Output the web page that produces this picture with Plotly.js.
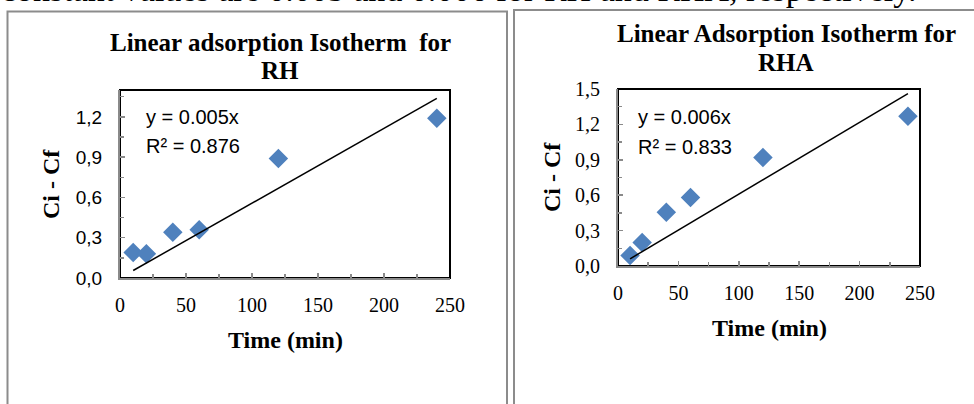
<!DOCTYPE html>
<html>
<head>
<meta charset="utf-8">
<script src="https://cdn.plot.ly/plotly-3.0.1.min.js"></script>
<style>html,body{margin:0;padding:0;background:#fff;} #chart{width:974px;height:404px;}</style>
</head>
<body>
<div id="chart"></div>
<script>
// ---- data ----
const timeMin = [10, 20, 40, 60, 120, 240];
const rhValues = [0.19, 0.18, 0.34, 0.36, 0.89, 1.19];
const rhaValues = [0.09, 0.20, 0.455, 0.58, 0.92, 1.27];
const rhEquation = ["y = 0.005x", "R\u00b2 = 0.876"];
const rhaEquation = ["y = 0.006x", "R\u00b2 = 0.833"];
const titles = [["Linear adsorption Isotherm  for", "RH"], ["Linear Adsorption Isotherm for", "RHA"]];
const xTitle = "Time (min)";
const yTitle = "Ci - Cf";
const topText = "constant values are 0.005 and 0.006 for RH and RHA, respectively.";

// least squares linear trendline through the origin (as Excel)
function slopeThroughOrigin(xs, ys) {
  let sxy = 0, sxx = 0;
  xs.forEach((x, i) => { sxy += x * ys[i]; sxx += x * x; });
  return sxy / sxx;
}
const xEnds = [Math.min(...timeMin), Math.max(...timeMin)];
const kRH = slopeThroughOrigin(timeMin, rhValues);
const kRHA = slopeThroughOrigin(timeMin, rhaValues);

const W = 974, H = 404;
const px = x => x / W;
const py = y => 1 - y / H;

const serif = "Liberation Serif, Times New Roman, serif";
const sans = "Liberation Sans, Arial, sans-serif";
const blue = "#4F81BD";
const axisGray = "#8a8a8a";

const marker = {symbol: "diamond", size: 15, color: blue, line: {width: 0}};

const traces = [
  {x: timeMin, y: rhValues, type: "scatter", mode: "markers", marker: marker, xaxis: "x", yaxis: "y", cliponaxis: false},
  {x: xEnds, y: xEnds.map(v => v * kRH), type: "scatter", mode: "lines", line: {color: "#000", width: 1.5}, xaxis: "x", yaxis: "y"},
  {x: timeMin, y: rhaValues, type: "scatter", mode: "markers", marker: marker, xaxis: "x2", yaxis: "y2", cliponaxis: false},
  {x: xEnds, y: xEnds.map(v => v * kRHA), type: "scatter", mode: "lines", line: {color: "#000", width: 1.5}, xaxis: "x2", yaxis: "y2"}
];

function xAxis(domain, anchor) {
  return {
    domain: domain, anchor: anchor, range: [0, 250], dtick: 50, tick0: 0,
    showgrid: false, zeroline: false, showline: true, linecolor: axisGray, linewidth: 2,
    ticks: "inside", ticklen: 5, tickcolor: axisGray, tickwidth: 1.5,
    minor: {ticks: "inside", dtick: 25, ticklen: 4, tickcolor: axisGray, tickwidth: 1.5},
    tickfont: {family: serif, size: 20, color: "#000"}, ticklabelstandoff: 8,
    fixedrange: true
  };
}
function yAxis(domain, anchor, maxv, font) {
  return {
    domain: domain, anchor: anchor, range: [0, maxv], dtick: 0.3, tick0: 0,
    tickformat: ".1f",
    showgrid: false, zeroline: false, showline: true, linecolor: axisGray, linewidth: 2,
    ticks: "inside", ticklen: 5, tickcolor: axisGray, tickwidth: 1.5,
    minor: {ticks: "inside", dtick: 0.15, ticklen: 4, tickcolor: axisGray, tickwidth: 1.5},
    tickfont: font, ticklabelstandoff: 12,
    fixedrange: true
  };
}

const shapes = [
  // plot-area frames
  {type: "rect", xref: "paper", yref: "paper", x0: px(120), x1: px(450), y0: py(278), y1: py(90), line: {color: "#000", width: 2}, layer: "below"},
  {type: "rect", xref: "paper", yref: "paper", x0: px(618), x1: px(920), y0: py(266), y1: py(89), line: {color: "#000", width: 2}, layer: "below"},
  // outer panel borders
  {type: "path", xref: "paper", yref: "paper", path: `M ${px(7.5)} ${py(410)} L ${px(7.5)} ${py(11.5)} L ${px(507)} ${py(11.5)} L ${px(507)} ${py(410)}`, line: {color: "#8c8c8c", width: 2}},
  {type: "path", xref: "paper", yref: "paper", path: `M ${px(514)} ${py(410)} L ${px(514)} ${py(10)} L ${px(980)} ${py(10)}`, line: {color: "#8c8c8c", width: 2}}
];

const titleFont = {family: serif, size: 25, color: "#000", weight: "bold"};
const axisTitleFont = {family: serif, size: 24, color: "#000", weight: "bold"};
const eqFont = {family: sans, size: 20, color: "#000"};

const annotations = [
  {text: topText, xref: "paper", yref: "paper", x: px(-1), y: py(10), xanchor: "left", yanchor: "bottom", showarrow: false, font: {family: serif, size: 34, color: "#000"}},
  // titles
  {text: "<b>" + titles[0][0] + "</b>", xref: "paper", yref: "paper", x: px(280), y: py(43), xanchor: "center", yanchor: "middle", showarrow: false, font: titleFont},
  {text: "<b>" + titles[0][1] + "</b>", xref: "paper", yref: "paper", x: px(280), y: py(71), xanchor: "center", yanchor: "middle", showarrow: false, font: titleFont},
  {text: "<b>" + titles[1][0] + "</b>", xref: "paper", yref: "paper", x: px(786), y: py(34), xanchor: "center", yanchor: "middle", showarrow: false, font: titleFont},
  {text: "<b>" + titles[1][1] + "</b>", xref: "paper", yref: "paper", x: px(786), y: py(62), xanchor: "center", yanchor: "middle", showarrow: false, font: titleFont},
  // axis titles
  {text: "<b>" + xTitle + "</b>", xref: "paper", yref: "paper", x: px(285), y: py(340), xanchor: "center", yanchor: "middle", showarrow: false, font: axisTitleFont},
  {text: "<b>" + xTitle + "</b>", xref: "paper", yref: "paper", x: px(769), y: py(328), xanchor: "center", yanchor: "middle", showarrow: false, font: axisTitleFont},
  {text: "<b>" + yTitle + "</b>", xref: "paper", yref: "paper", x: px(51), y: py(184), xanchor: "center", yanchor: "middle", textangle: -90, showarrow: false, font: axisTitleFont},
  {text: "<b>" + yTitle + "</b>", xref: "paper", yref: "paper", x: px(552), y: py(177), xanchor: "center", yanchor: "middle", textangle: -90, showarrow: false, font: axisTitleFont},
  // equations
  {text: rhEquation[0], xref: "x", yref: "y", x: 18, y: 1.2, xanchor: "left", yanchor: "middle", showarrow: false, font: eqFont},
  {text: rhEquation[1], xref: "x", yref: "y", x: 18, y: 0.98, xanchor: "left", yanchor: "middle", showarrow: false, font: eqFont},
  {text: rhaEquation[0], xref: "x2", yref: "y2", x: 15, y: 1.26, xanchor: "left", yanchor: "middle", showarrow: false, font: eqFont},
  {text: rhaEquation[1], xref: "x2", yref: "y2", x: 15, y: 1.01, xanchor: "left", yanchor: "middle", showarrow: false, font: eqFont}
];

const layout = {
  width: W, height: H,
  margin: {l: 0, r: 0, t: 0, b: 0, pad: 0},
  paper_bgcolor: "#fff", plot_bgcolor: "#fff",
  separators: ",.",
  showlegend: false,
  xaxis: xAxis([px(120), px(450)], "y"),
  yaxis: yAxis([py(278), py(90)], "x", 1.4, {family: sans, size: 19, color: "#000"}),
  xaxis2: xAxis([px(618), px(920)], "y2"),
  yaxis2: yAxis([py(266), py(89)], "x2", 1.5, {family: serif, size: 20, color: "#000"}),
  shapes: shapes,
  annotations: annotations
};

Plotly.newPlot("chart", traces, layout, {staticPlot: true, displayModeBar: false});
</script>
</body>
</html>
